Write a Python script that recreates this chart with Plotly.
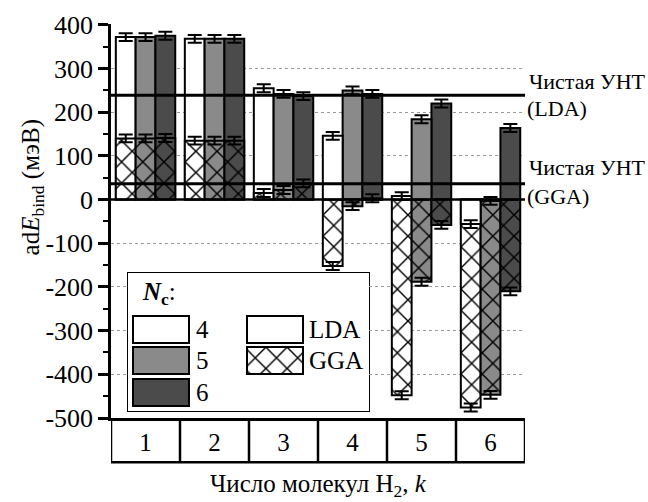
import plotly.graph_objects as go

# Number of adsorbed H2 molecules and number of carbon atoms in the ring (Nc)
k_values = [1, 2, 3, 4, 5, 6]
nc_values = [4, 5, 6]

# Adsorption binding energies, meV
lda_nc4 = [372, 368, 255, 146, 8, -56]
lda_nc5 = [372, 368, 242, 250, 184, -3]
lda_nc6 = [375, 368, 237, 242, 220, 164]
gga_nc4 = [140, 135, 15, -152, -448, -476]
gga_nc5 = [140, 135, 22, -15, -188, -447]
gga_nc6 = [141, 135, 37, 3, -58, -210]

# Error estimates, meV
lda_err = [9, 9, 9, 9, 9, 9]
gga_err = [9, 9, 9, 9, 9, 9]

# Binding energy of the pristine nanotube
pure_cnt_lda = 239
pure_cnt_gga = 36

y_ticks = [-500, -400, -300, -200, -100, 0, 100, 200, 300, 400]
y_ticktext = [str(v) for v in y_ticks]

FONT = "Liberation Serif"
fill_colors = {4: "#ffffff", 5: "#8a8a8a", 6: "#4b4b4b"}
BAR_W = 0.287
GROUP_LEFT = -0.43

lda_by_nc = {4: lda_nc4, 5: lda_nc5, 6: lda_nc6}
gga_by_nc = {4: gga_nc4, 5: gga_nc5, 6: gga_nc6}


def pattern(shapes):
    return dict(shape=shapes, fillmode="overlay", fgcolor="black",
                fgopacity=1, size=15, solidity=0.18)


fig = go.Figure()

# Each Nc slot shows LDA (plain) and GGA (cross-hatched) bars overlaid;
# the bar with the larger magnitude goes behind the smaller one.
back_traces, front_traces = [], []
for i, nc in enumerate(nc_values):
    back_y, back_p, back_e, front_y, front_p, front_e = [], [], [], [], [], []
    for l, g, le, ge in zip(lda_by_nc[nc], gga_by_nc[nc], lda_err, gga_err):
        if abs(l) >= abs(g):
            back_y.append(l); back_p.append(""); back_e.append(le)
            front_y.append(g); front_p.append("x"); front_e.append(ge)
        else:
            back_y.append(g); back_p.append("x"); back_e.append(ge)
            front_y.append(l); front_p.append(""); front_e.append(le)
    offset = GROUP_LEFT + i * BAR_W
    for ys, ps, es, bucket in ((back_y, back_p, back_e, back_traces),
                               (front_y, front_p, front_e, front_traces)):
        bucket.append(go.Bar(
            x=k_values, y=ys, width=BAR_W, offset=offset,
            marker=dict(color=fill_colors[nc],
                        line=dict(color="black", width=2),
                        pattern=pattern(ps)),
            error_y=dict(type="data", array=es, color="black",
                         thickness=2, width=7),
            showlegend=False, hoverinfo="skip",
        ))
for t in back_traces + front_traces:
    fig.add_trace(t)

# Legend drawn in a small inset axis: box coordinates in pixels of the box
LEG_W, LEG_H = 241, 138
sw_x0, sw_len, sw_h = 5, 56, 27
col2_x0 = 119
row_c = [81.5, 50.5, 18.5]
for nc, yc in zip(nc_values, row_c):
    fig.add_trace(go.Bar(
        x=[sw_len], y=[yc], base=[sw_x0], width=sw_h, orientation="h",
        marker=dict(color=fill_colors[nc], line=dict(color="black", width=2)),
        xaxis="x2", yaxis="y2", showlegend=False, hoverinfo="skip"))
for name, shp, yc in (("LDA", "", row_c[0]), ("GGA", "x", row_c[1])):
    fig.add_trace(go.Bar(
        x=[sw_len], y=[yc], base=[col2_x0], width=sw_h, orientation="h",
        marker=dict(color="white", line=dict(color="black", width=2),
                    pattern=pattern([shp])),
        xaxis="x2", yaxis="y2", showlegend=False, hoverinfo="skip"))

annotations = []
for nc, yc in zip(nc_values, row_c):
    annotations.append(dict(x=sw_x0 + sw_len + 5, y=yc, xref="x2", yref="y2",
                            text=str(nc), showarrow=False, xanchor="left",
                            yanchor="middle", font=dict(family=FONT, size=25)))
for name, yc in (("LDA", row_c[0]), ("GGA", row_c[1])):
    annotations.append(dict(x=col2_x0 + sw_len + 4, y=yc, xref="x2", yref="y2",
                            text=name, showarrow=False, xanchor="left",
                            yanchor="middle", font=dict(family=FONT, size=25)))
annotations.append(dict(x=12, y=118, xref="x2", yref="y2",
                        text="<b><i>N</i></b><sub><b>c</b></sub>:",
                        showarrow=False, xanchor="left", yanchor="middle",
                        font=dict(family=FONT, size=25)))

# Labels of the pristine-nanotube reference lines
for val, top_shift, bot_shift, tag in ((pure_cnt_lda, 14, -13, "(LDA)"),
                                       (pure_cnt_gga, 16, -13, "(GGA)")):
    annotations.append(dict(x=1.0, y=val, xref="paper", yref="y",
                            text="Чистая УНТ", showarrow=False,
                            xanchor="left", yanchor="middle", xshift=2,
                            yshift=top_shift, font=dict(family=FONT, size=22)))
    annotations.append(dict(x=1.0, y=val, xref="paper", yref="y",
                            text=tag, showarrow=False,
                            xanchor="left", yanchor="middle", xshift=0,
                            yshift=bot_shift, font=dict(family=FONT, size=22)))

# Axis titles
annotations.append(dict(x=-0.19, y=0.586, xref="paper", yref="paper",
                        text="ad<i>E</i><sub>bind</sub> (мэВ)", textangle=-90,
                        showarrow=False, xanchor="center", yanchor="middle",
                        font=dict(family=FONT, size=25)))
annotations.append(dict(x=0.5, y=-0.172, xref="paper", yref="paper",
                        text="Число молекул H<sub>2</sub>, <i>k</i>",
                        showarrow=False, xanchor="center", yanchor="middle",
                        font=dict(family=FONT, size=25)))

shapes = []
# reference lines and the zero line on top of the bars
for val, w in ((pure_cnt_lda, 3), (pure_cnt_gga, 3), (0, 2.5)):
    shapes.append(dict(type="line", xref="paper", yref="y", x0=0, x1=1,
                       y0=val, y1=val, layer="above",
                       line=dict(color="black", width=w)))
# category table under the plot
TABLE_H = 0.112
for k in k_values + [k_values[-1] + 1]:
    shapes.append(dict(type="line", xref="x", yref="paper", x0=k - 0.5,
                       x1=k - 0.5, y0=0, y1=-TABLE_H, layer="above",
                       line=dict(color="black", width=2.5)))
shapes.append(dict(type="line", xref="x", yref="paper", x0=0.5,
                   x1=k_values[-1] + 0.5, y0=-TABLE_H, y1=-TABLE_H,
                   layer="above", line=dict(color="black", width=2.5)))
# legend frame
shapes.append(dict(type="rect", xref="x2 domain", yref="y2 domain",
                   x0=0, x1=1, y0=0, y1=1, layer="below",
                   fillcolor="white", line=dict(color="black", width=2)))

PLOT_L, PLOT_R, PLOT_T, PLOT_B = 111, 525, 24, 418
W, H = 648, 502
pw, ph = PLOT_R - PLOT_L, PLOT_B - PLOT_T
leg_px = (128, 369, 273, 411)  # left, right, top, bottom of legend frame

fig.update_layout(
    width=W, height=H,
    margin=dict(l=PLOT_L, r=W - PLOT_R, t=PLOT_T, b=H - PLOT_B, pad=0),
    paper_bgcolor="white", plot_bgcolor="white",
    barmode="overlay",
    font=dict(family=FONT, color="black"),
    showlegend=False,
    xaxis=dict(range=[0.5, 6.5], tickvals=k_values,
               ticktext=[str(k) for k in k_values], ticks="",
               showgrid=False, zeroline=False, showline=True,
               linecolor="black", linewidth=2.5,
               tickfont=dict(family=FONT, size=25), ticklabelstandoff=0,
               fixedrange=True),
    yaxis=dict(range=[-500, 402], tickmode="array", tickvals=y_ticks,
               ticktext=y_ticktext, ticks="outside", ticklen=10,
               tickwidth=2.5, tickcolor="black",
               showline=True, linecolor="black", linewidth=2.5,
               showgrid=True, gridcolor="#9a9a9a", griddash="dot",
               gridwidth=1, zeroline=False,
               tickfont=dict(family=FONT, size=26),
               minor=dict(tick0=-500, dtick=50, ticks="outside", ticklen=5,
                          tickwidth=2, tickcolor="black", showgrid=False),
               fixedrange=True),
    xaxis2=dict(domain=[(leg_px[0] - PLOT_L) / pw, (leg_px[1] - PLOT_L) / pw],
                range=[0, LEG_W], anchor="y2", visible=False, fixedrange=True),
    yaxis2=dict(domain=[(PLOT_B - leg_px[3]) / ph, (PLOT_B - leg_px[2]) / ph],
                range=[0, LEG_H], anchor="x2", visible=False, fixedrange=True),
    shapes=shapes,
    annotations=annotations,
)

fig.write_html("out.html")
